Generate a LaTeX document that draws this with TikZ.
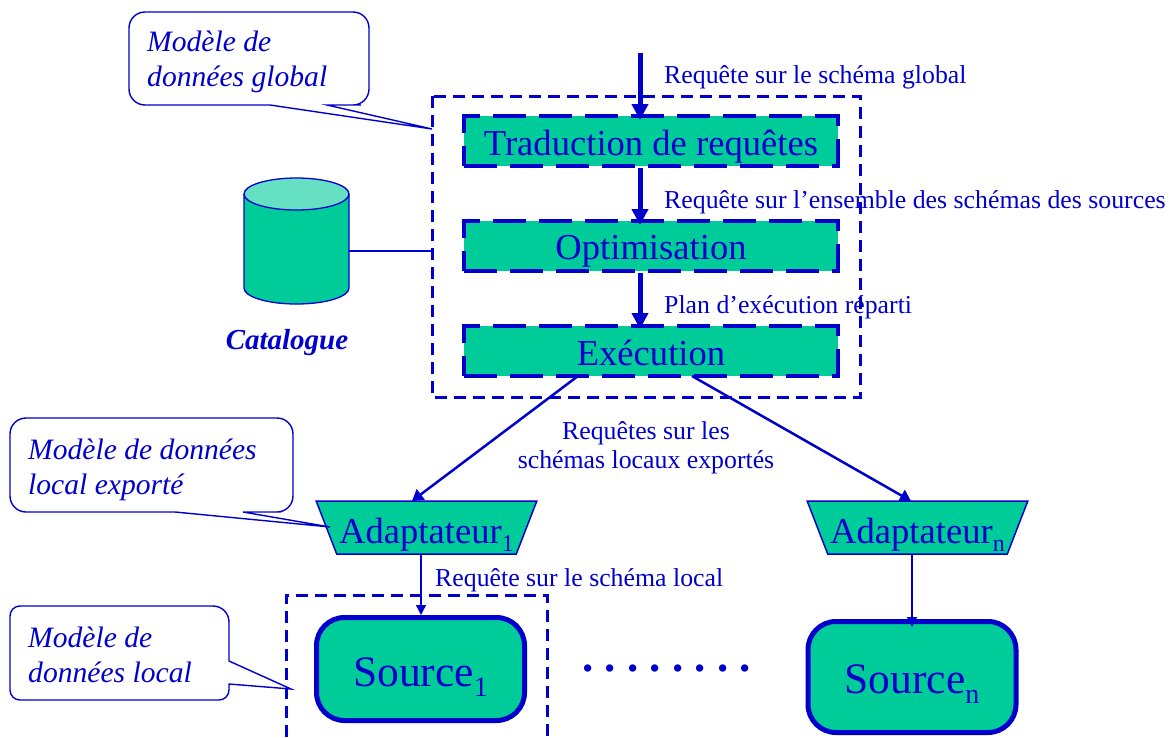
\documentclass[tikz,border=0pt]{standalone}
\usepackage{fontspec}
\setmainfont{Liberation Serif}
\usetikzlibrary{arrows.meta,shapes.geometric}
\definecolor{medblue}{HTML}{0000CC}
\definecolor{medgreen}{HTML}{00CC99}
\definecolor{medlight}{HTML}{66E0C2}
\newcommand{\fsz}[2]{\fontsize{#1}{#2}\selectfont}
\newcommand{\lowtxt}[2]{\raisebox{#1}[1pt][1pt]{#2}}
\newcommand{\adtxt}[1]{\raisebox{-16pt}[26pt][26pt]{Adaptateur\lowtxt{-8pt}{\fsz{24}{24}#1}}}
\tikzset{
  every node/.style={text=medblue, inner sep=0pt},
  stepbox/.style={draw=medblue, fill=medgreen, line width=4.5pt, dash pattern=on 33pt off 13pt,
    minimum width=374pt, minimum height=50pt, font=\fsz{36.6}{40}},
  srcbox/.style={draw=medblue, fill=medgreen, line width=5pt, rounded corners=28pt,
    minimum width=208pt, font=\fsz{43.5}{48}},
  adapter/.style={draw=medblue, fill=medgreen, line width=1.5pt, trapezium, shape border rotate=180,
    trapezium angle=69, trapezium stretches=true, minimum width=221pt, minimum height=53pt, font=\fsz{36.6}{40}},
  framebox/.style={draw=medblue, line width=3pt, dash pattern=on 12pt off 7pt},
  bubble/.style={draw=medblue, line width=1.4pt, fill=white},
  bubtext/.style={font=\fsz{29.6}{34.5}\itshape, align=left, anchor=north west},
  flowlabel/.style={font=\fsz{25.8}{30}, anchor=west},
  thick arrow/.style={draw=medblue, line width=5pt, -{Triangle[length=16pt,width=16pt]}},
  thin arrow/.style={draw=medblue, line width=2.5pt, -{Triangle[length=11pt,width=13pt]}},
  fine arrow/.style={draw=medblue, line width=1.3pt, -{Triangle[length=10pt,width=10pt]}},
}
\begin{document}
\begin{tikzpicture}[x=1pt,y=-1pt]
\useasboundingbox (0,0) rectangle (1176,737);
% frames
\draw[framebox] (432,96) rectangle (860,397);
\draw[framebox] (286,737) |- (547,595) -- (547,737);
% processing steps
\node[stepbox] (trad) at (651,141) {\lowtxt{-14pt}{Traduction de requêtes}};
\node[stepbox] (optim) at (651,246) {\lowtxt{-13pt}{Optimisation}};
\node[stepbox] (exec) at (651,351) {\lowtxt{-14pt}{Exécution}};
\coordinate (entry) at (640,53);
\coordinate (tradin) at (640,120);
\coordinate (optimin) at (640,225);
\coordinate (execin) at (640,329);
\draw[thick arrow] (entry) -- (tradin);
\draw[thick arrow] (trad.south -| entry) -- (optimin);
\draw[thick arrow] (optim.south -| entry) -- (execin);
% catalogue
\coordinate (catside) at (349,251);
\coordinate (catjoin) at (432,251);
\draw[draw=medblue, fill=medgreen, line width=1.3pt] (244,194) -- (244,288) arc[start angle=180, end angle=360, x radius=52.5, y radius=-16] -- (349,194);
\draw[draw=medblue, fill=medlight, line width=1.3pt] (296.5,194) ellipse[x radius=52.5, y radius=16];
\node[font=\fsz{29}{32}\itshape\bfseries] (catlabel) at (287,343) {Catalogue};
\draw[draw=medblue, line width=1.5pt] (catside) -- (catjoin);
% wrappers and sources
\node[adapter] (ad1) at (426.5,527.5) {\adtxt{1}};
\node[adapter] (adn) at (917.5,527.5) {\adtxt{n}};
\node[srcbox, minimum height=103pt] (src1) at (420.5,669) {\lowtxt{-17pt}{Source\lowtxt{-10pt}{\fsz{28}{28}1}}};
\node[srcbox, minimum height=111pt] (srcn) at (912,677) {\lowtxt{-16pt}{Source\lowtxt{-10pt}{\fsz{28}{28}n}}};
\coordinate (fork1) at (578,376);
\coordinate (forkn) at (692,376);
\coordinate (ad1in) at (412,501);
\coordinate (adnin) at (911,501);
\coordinate (srcnin) at (912,627);
\draw[thin arrow] (fork1) -- (ad1in);
\draw[thin arrow] (forkn) -- (adnin);
\draw[fine arrow] (ad1.south -| 421,0) -- (src1.north -| 421,0);
\draw[fine arrow] (adn.south -| srcnin) -- (srcnin);
\node[font=\fsz{45}{48}\bfseries\frenchspacing] (dots) at (666.5,668) {. . . . . . . .};
% flow labels
\node[flowlabel] (l1) at (664,77) {Requête sur le schéma global};
\node[flowlabel] (l2) at (664,202) {Requête sur l’ensemble des schémas des sources};
\node[flowlabel] (l3) at (664,307) {Plan d’exécution réparti};
\node[font=\fsz{25.8}{29}, align=center] (l4) at (646,447.5) {Requêtes sur les\\schémas locaux exportés};
\node[flowlabel] (l5) at (435,580) {Requête sur le schéma local};
% callouts
\draw[bubble] (200,12) [rounded corners=16pt] -- (369,12) -- (369,105) -- (345,105) [sharp corners] -- (327,105) -- (432,129) -- (270,105) -- (200,105) [rounded corners=16pt] -- (129,105) -- (129,12) -- cycle;
\node[bubtext] (bub1) at (147,31) {Modèle de\\données global};
\draw[bubble] (100,418) [rounded corners=16pt] -- (293,418) -- (293,512) -- (265,512) [sharp corners] -- (243,512) -- (330,527) -- (175,512) -- (100,512) [rounded corners=16pt] -- (10,512) -- (10,418) -- cycle;
\node[bubtext] (bub2) at (28,439) {Modèle de données\\local exporté};
\draw[bubble] (100,606) [rounded corners=16pt] -- (229,606) -- (229,640) [sharp corners] -- (229,661) -- (291,689) -- (229,684) -- (229,690) [rounded corners=10pt] -- (229,700) -- (10,700) -- (10,606) -- cycle;
\node[bubtext] (bub3) at (28,627) {Modèle de\\données local};
\end{tikzpicture}
\end{document}
